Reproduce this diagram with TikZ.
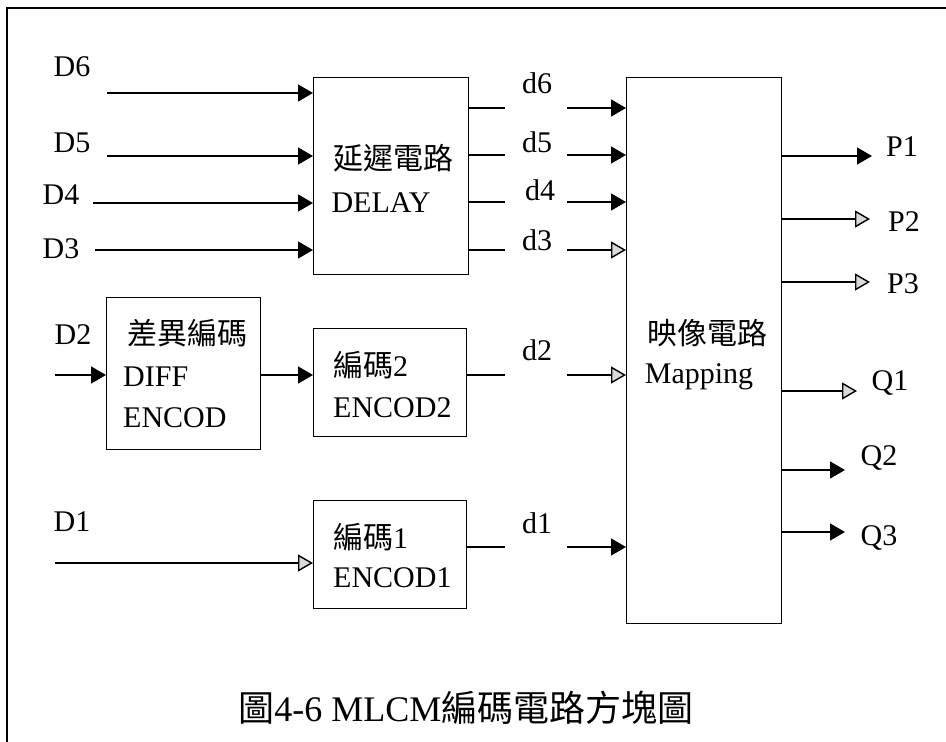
\documentclass[tikz,border=0pt]{standalone}
\usepackage{fontspec}
\setmainfont{Liberation Serif}
\newfontfamily\cjk{Noto Sans CJK TC}
\usetikzlibrary{arrows.meta}
\begin{document}
\begin{tikzpicture}[x=1pt,y=-1pt,
  box/.style={draw,line width=1.2pt,inner sep=0pt,anchor=north west},
  lab/.style={font=\fontsize{30}{33}\selectfont,inner sep=0pt},
  ln/.style={line width=1.2pt},
  fa/.style={line width=1.5pt,-{Triangle[length=15pt,width=17pt]}},
  oa/.style={line width=1.4pt,-{Triangle[length=15pt,width=17pt,fill=gray!30]}}]
\useasboundingbox (0,0) rectangle (946,742);
% frame
\draw[line width=1.5pt] (946,8) -- (7,8) -- (7,742);
% boxes
\node[box,minimum width=155pt,minimum height=197pt] (delay) at (313,77) {};
\node[box,minimum width=155pt,minimum height=546pt] (map) at (626,77) {};
\node[box,minimum width=154pt,minimum height=152pt] (diff) at (106,297) {};
\node[box,minimum width=153pt,minimum height=108pt] (enc2) at (313,328) {};
\node[box,minimum width=153pt,minimum height=108pt] (enc1) at (313,500) {};
% box texts
\node[lab] (tdelay1) at (393,158) {\cjk 延遲電路};
\node[lab] (tdelay2) at (381,203) {DELAY};
\node[lab] (tmap1) at (707,333) {\cjk 映像電路};
\node[lab] (tmap2) at (699,377) {Mapping};
\node[lab] (tdiff1) at (187,333) {\cjk 差異編碼};
\node[lab,anchor=west] (tdiff2) at (123,377) {DIFF};
\node[lab,anchor=west] (tdiff3) at (123,418) {ENCOD};
\node[lab,anchor=west] (tenc2a) at (333,365) {{\cjk 編碼}2};
\node[lab,anchor=west] (tenc2b) at (333,408) {ENCOD2};
\node[lab,anchor=west] (tenc1a) at (333,537) {{\cjk 編碼}1};
\node[lab,anchor=west] (tenc1b) at (333,578) {ENCOD1};
% input labels
\node[lab] (lD6) at (72,67) {D6};
\node[lab] (lD5) at (72,143) {D5};
\node[lab] (lD4) at (61,195) {D4};
\node[lab] (lD3) at (61,249) {D3};
\node[lab] (lD2) at (73,335) {D2};
\node[lab] (lD1) at (72,522) {D1};
% d labels
\node[lab] (ld6) at (537,83) {d6};
\node[lab] (ld5) at (537,142) {d5};
\node[lab] (ld4) at (540,190) {d4};
\node[lab] (ld3) at (537,240) {d3};
\node[lab] (ld2) at (537,350) {d2};
\node[lab] (ld1) at (537,523) {d1};
% output labels
\node[lab] (lP1) at (902,147) {P1};
\node[lab] (lP2) at (904,222) {P2};
\node[lab] (lP3) at (903,284) {P3};
\node[lab] (lQ1) at (890,383) {Q1};
\node[lab] (lQ2) at (879,458) {Q2};
\node[lab] (lQ3) at (879,538) {Q3};
% input coordinates
\coordinate (D6s) at (107,93);
\coordinate (D5s) at (107,156);
\coordinate (D4s) at (93,203);
\coordinate (D3s) at (95,250);
\coordinate (D2s) at (55,375);
\coordinate (D1s) at (55,563);
\draw[fa] (D6s) -- (D6s -| delay.west);
\draw[fa] (D5s) -- (D5s -| delay.west);
\draw[fa] (D4s) -- (D4s -| delay.west);
\draw[fa] (D3s) -- (D3s -| delay.west);
\draw[fa] (D2s) -- (D2s -| diff.west);
\draw[oa] (D1s) -- (D1s -| enc1.west);
\draw[fa] (diff.east |- D2s) -- (enc2.west |- D2s);
% d connections
\foreach \n/\y/\t in {6/108/fa,5/155/fa,4/202/fa,3/250/oa}{
  \coordinate (d\n a) at (505,\y);
  \coordinate (d\n b) at (567,\y);
  \draw[ln] (d\n a -| delay.east) -- (d\n a);
  \draw[\t] (d\n b) -- (d\n b -| map.west);
}
\coordinate (d2a) at (505,375);
\coordinate (d2b) at (567,375);
\draw[ln] (d2a -| enc2.east) -- (d2a);
\draw[oa] (d2b) -- (d2b -| map.west);
\coordinate (d1a) at (505,547);
\coordinate (d1b) at (567,547);
\draw[ln] (d1a -| enc1.east) -- (d1a);
\draw[fa] (d1b) -- (d1b -| map.west);
% outputs
\coordinate (P1e) at (872,156);
\coordinate (P2e) at (870,219);
\coordinate (P3e) at (870,282);
\coordinate (Q1e) at (857,391);
\coordinate (Q2e) at (845,470);
\coordinate (Q3e) at (845,532);
\draw[fa] (P1e -| map.east) -- (P1e);
\draw[oa] (P2e -| map.east) -- (P2e);
\draw[oa] (P3e -| map.east) -- (P3e);
\draw[oa] (Q1e -| map.east) -- (Q1e);
\draw[fa] (Q2e -| map.east) -- (Q2e);
\draw[fa] (Q3e -| map.east) -- (Q3e);
% caption
\node[inner sep=0pt,font=\fontsize{36}{40}\selectfont] (cap) at (466,708)
  {{\cjk 圖}4-6 MLCM{\cjk 編碼電路方塊圖}};
\end{tikzpicture}
\end{document}
